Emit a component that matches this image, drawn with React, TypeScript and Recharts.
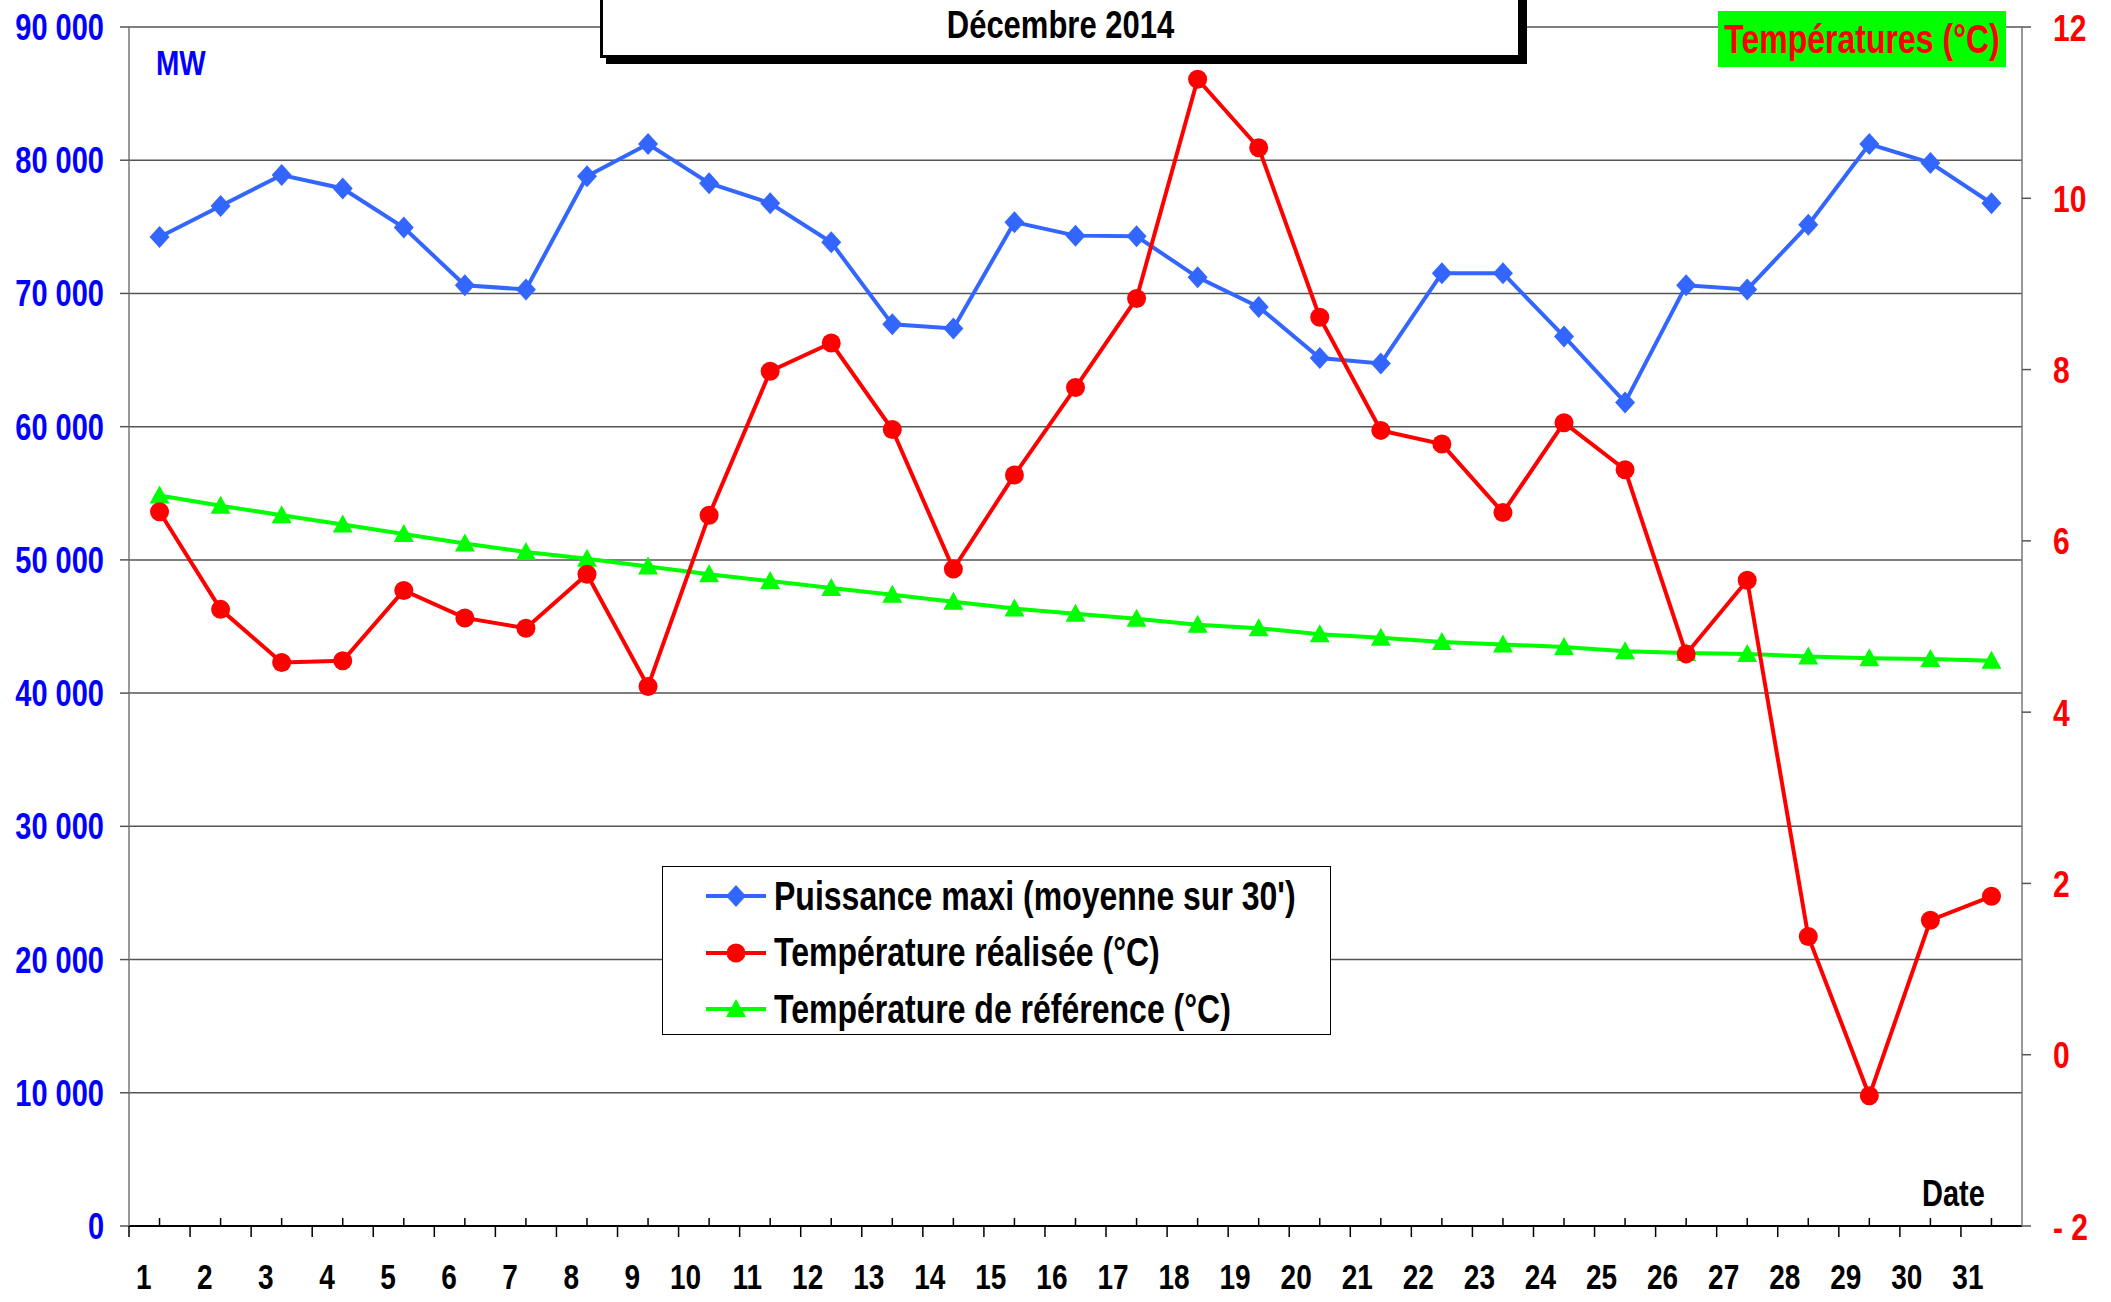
import React from "react";
import { LineChart, Line, XAxis, YAxis, CartesianGrid } from "recharts";

const days = Array.from({ length: 31 }, (_, i) => String(i + 1));

// MW, daily max power (30' mean)
const puissance = [
  74240, 76570, 78890, 77880, 74950, 70610, 70300, 78790, 81210, 78280,
  76770, 73840, 67680, 67370, 75350, 74340, 74290, 71210, 68990, 65150,
  64750, 71520, 71520, 66770, 61820, 70610, 70300, 75150, 81210, 79800,
  76770,
];

// °C
const tempRealisee = [
  6.34, 5.2, 4.58, 4.6, 5.42, 5.1, 4.98, 5.61, 4.3, 6.3,
  7.98, 8.31, 7.3, 5.67, 6.77, 7.79, 8.83, 11.39, 10.59, 8.61,
  7.29, 7.13, 6.33, 7.38, 6.83, 4.68, 5.54, 1.38, -0.48, 1.57,
  1.85,
];

const tempReference = [
  6.53, 6.41, 6.3, 6.19, 6.08, 5.97, 5.87, 5.79, 5.7, 5.61,
  5.53, 5.45, 5.37, 5.29, 5.21, 5.15, 5.09, 5.02, 4.98, 4.91,
  4.87, 4.82, 4.79, 4.76, 4.71, 4.69, 4.68, 4.65, 4.63, 4.62,
  4.6,
];

const leftTicks = [0, 10000, 20000, 30000, 40000, 50000, 60000, 70000, 80000, 90000];
const rightTicks = [-2, 0, 2, 4, 6, 8, 10, 12];

const FONT = '"Liberation Sans", Arial, sans-serif';
const BLUE = "#3366FF";
const RED = "#FF0000";
const GREEN = "#00FF00";
const STRETCH = 1.25; // text in the original is drawn taller than wide

const data = days.map((day, i) => ({
  day,
  puissance: puissance[i],
  realisee: tempRealisee[i],
  reference: tempReference[i],
}));

const BAND = 1893 / 31;

const fmtMW = (v: number) =>
  v === 0 ? "0" : `${Math.floor(v / 1000)} ${String(v % 1000).padStart(3, "0")}`;
const fmtTemp = (v: number) => (v < 0 ? `- ${Math.abs(v)}` : String(v));

// tall text: (x, cy) is the vertical centre
const TallText = ({ x, cy, size, fill, anchor, children }: any) => (
  <text
    transform={`translate(${x},${cy + 0.36 * size * STRETCH}) scale(1,${STRETCH})`}
    textAnchor={anchor}
    fill={fill}
    fontSize={size}
    fontWeight={700}
    fontFamily={FONT}
  >
    {children}
  </text>
);

const XTick = (props: any) => {
  const { x, y, payload } = props;
  return (
    <g>
      <line x1={x} x2={x} y1={y} y2={y - 8} stroke="#000" strokeWidth={1.5} />
      <line x1={x - BAND / 2} x2={x - BAND / 2} y1={y} y2={y + 11} stroke="#000" strokeWidth={1.5} />
      <TallText x={x - 8} cy={y + 50} size={28} fill="#000" anchor="end">
        {payload.value}
      </TallText>
    </g>
  );
};

const LeftTick = (props: any) => {
  const { x, y, payload } = props;
  return (
    <TallText x={x} cy={y} size={29} fill="#0000FF" anchor="end">
      {fmtMW(payload.value)}
    </TallText>
  );
};

const RightTick = (props: any) => {
  const { x, y, payload } = props;
  return (
    <TallText x={x} cy={y} size={30} fill={RED} anchor="start">
      {fmtTemp(payload.value)}
    </TallText>
  );
};

const Diamond = (props: any) => {
  const { cx, cy, index } = props;
  if (cx == null || cy == null) return <g key={`d${index}`} />;
  return (
    <polygon
      key={`d${index}`}
      points={`${cx},${cy - 11} ${cx + 10},${cy} ${cx},${cy + 11} ${cx - 10},${cy}`}
      fill={BLUE}
    />
  );
};

const Circle = (props: any) => {
  const { cx, cy, index } = props;
  if (cx == null || cy == null) return <g key={`c${index}`} />;
  return <circle key={`c${index}`} cx={cx} cy={cy} r={9.5} fill={RED} />;
};

const Triangle = (props: any) => {
  const { cx, cy, index } = props;
  if (cx == null || cy == null) return <g key={`t${index}`} />;
  return (
    <polygon
      key={`t${index}`}
      points={`${cx},${cy - 10} ${cx + 10},${cy + 8} ${cx - 10},${cy + 8}`}
      fill={GREEN}
    />
  );
};

const legendRows = [
  { label: "Puissance maxi (moyenne sur 30')", color: BLUE, shape: "diamond" },
  { label: "Température réalisée (°C)", color: RED, shape: "circle" },
  { label: "Température de référence (°C)", color: GREEN, shape: "triangle" },
];

function LegendIcon({ color, shape }: { color: string; shape: string }) {
  return (
    <svg width={62} height={24} style={{ display: "block" }}>
      <line x1={1} x2={61} y1={12} y2={12} stroke={color} strokeWidth={4} />
      {shape === "diamond" && <polygon points="31,1 41,12 31,23 21,12" fill={color} />}
      {shape === "circle" && <circle cx={31} cy={12} r={9.5} fill={color} />}
      {shape === "triangle" && <polygon points="31,2 41,20 21,20" fill={color} />}
    </svg>
  );
}

const Tall = ({ children }: { children: React.ReactNode }) => (
  <span style={{ display: "inline-block", transform: `scaleY(${STRETCH})` }}>{children}</span>
);

export default function App() {
  return (
    <div
      style={{
        position: "absolute",
        left: 0,
        top: 0,
        width: 2111,
        height: 1302,
        background: "#fff",
        overflow: "hidden",
        fontFamily: FONT,
      }}
    >
      <LineChart
        width={2111}
        height={1302}
        data={data}
        margin={{ top: 27, right: 0, left: 0, bottom: 0 }}
      >
        <CartesianGrid
          yAxisId="left"
          vertical={false}
          stroke="#555"
          strokeWidth={1.5}
        />
        <XAxis
          dataKey="day"
          height={76}
          padding={{ left: BAND / 2, right: BAND / 2 }}
          interval={0}
          tickSize={0}
          tickMargin={0}
          tickLine={false}
          axisLine={{ stroke: "#000", strokeWidth: 2 }}
          tick={<XTick />}
        />
        <YAxis
          yAxisId="left"
          width={129}
          domain={[0, 90000]}
          ticks={leftTicks}
          interval={0}
          tickSize={9}
          tickMargin={16}
          axisLine={{ stroke: "#777", strokeWidth: 1.5 }}
          tickLine={{ stroke: "#555", strokeWidth: 1.5 }}
          tick={<LeftTick />}
        />
        <YAxis
          yAxisId="right"
          orientation="right"
          width={89}
          domain={[-2, 12]}
          ticks={rightTicks}
          interval={0}
          tickSize={9}
          tickMargin={22}
          axisLine={{ stroke: "#777", strokeWidth: 1.5 }}
          tickLine={{ stroke: "#555", strokeWidth: 1.5 }}
          tick={<RightTick />}
        />
        <Line
          yAxisId="left"
          dataKey="puissance"
          stroke={BLUE}
          strokeWidth={4}
          dot={Diamond}
          activeDot={false}
          isAnimationActive={false}
        />
        <Line
          yAxisId="right"
          dataKey="reference"
          stroke={GREEN}
          strokeWidth={4}
          dot={Triangle}
          activeDot={false}
          isAnimationActive={false}
        />
        <Line
          yAxisId="right"
          dataKey="realisee"
          stroke={RED}
          strokeWidth={4}
          dot={Circle}
          activeDot={false}
          isAnimationActive={false}
        />
      </LineChart>

      {/* title box */}
      <div
        style={{
          position: "absolute",
          left: 600,
          top: -10,
          width: 915,
          height: 62,
          background: "#fff",
          border: "3px solid #000",
          boxShadow: "6px 6px 0 #000",
          textAlign: "center",
          fontSize: 31,
          fontWeight: 700,
          lineHeight: "64px",
          color: "#000",
        }}
      >
        <Tall>Décembre 2014</Tall>
      </div>

      <div
        style={{
          position: "absolute",
          left: 156,
          top: 48,
          fontSize: 28,
          fontWeight: 700,
          color: "#0000FF",
        }}
      >
        <Tall>MW</Tall>
      </div>

      <div
        style={{
          position: "absolute",
          left: 1718,
          top: 11,
          width: 288,
          height: 56,
          background: GREEN,
          color: RED,
          fontSize: 32,
          fontWeight: 700,
          lineHeight: "56px",
          textAlign: "center",
          whiteSpace: "nowrap",
        }}
      >
        <Tall>Températures (°C)</Tall>
      </div>

      <div
        style={{
          position: "absolute",
          left: 1922,
          top: 1178,
          fontSize: 29,
          fontWeight: 700,
          color: "#000",
        }}
      >
        <Tall>Date</Tall>
      </div>

      {/* legend */}
      <div
        style={{
          position: "absolute",
          left: 662,
          top: 866,
          width: 667,
          height: 167,
          background: "#fff",
          border: "1.5px solid #000",
        }}
      >
        {legendRows.map((r, i) => (
          <div
            key={r.label}
            style={{
              position: "absolute",
              left: 42,
              top: 12 + i * 56.5,
              height: 34,
              display: "flex",
              alignItems: "center",
              whiteSpace: "nowrap",
            }}
          >
            <LegendIcon color={r.color} shape={r.shape} />
            <span style={{ marginLeft: 7, fontSize: 32, fontWeight: 700, color: "#000" }}>
              <Tall>{r.label}</Tall>
            </span>
          </div>
        ))}
      </div>
    </div>
  );
}
